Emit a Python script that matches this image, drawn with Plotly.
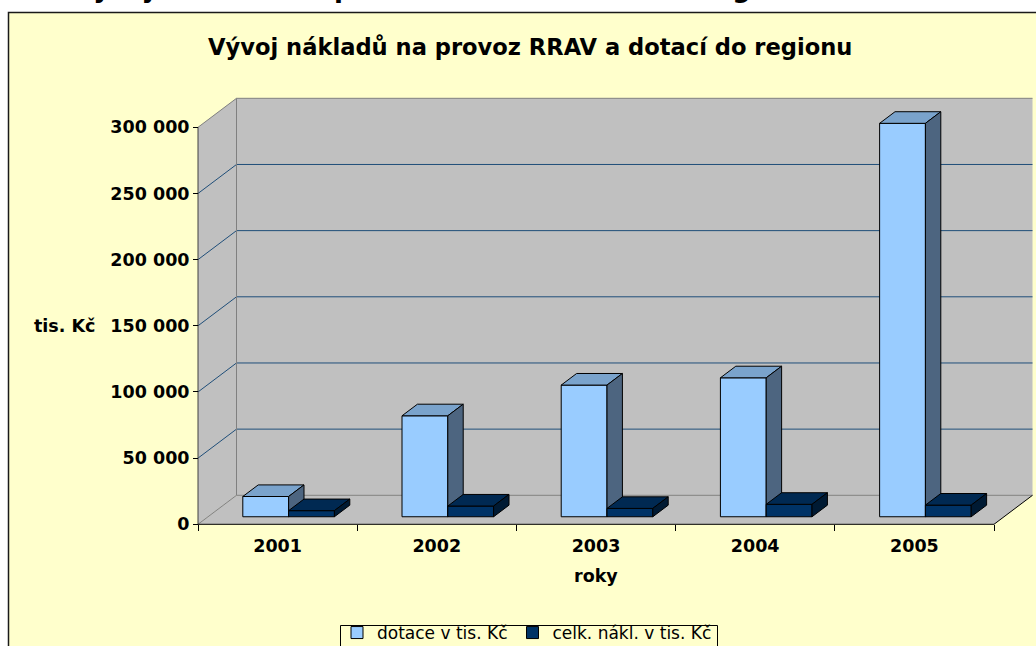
import plotly.graph_objects as go

# ---------------- data ----------------
years = ["2001", "2002", "2003", "2004", "2005"]
dotace = [15300, 76300, 99500, 105000, 297300]      # dotace v tis. Kč
naklady = [4600, 8100, 6300, 9400, 8800]            # celk. nákl. v tis. Kč
y_ticks = [0, 50000, 100000, 150000, 200000, 250000, 300000]
series_names = ["dotace v tis. Kč", "celk. nákl. v tis. Kč"]
chart_title = "Vývoj nákladů na provoz RRAV a dotací do regionu"
page_heading = "6.4  Vývoj nákladů na provoz RRAV a dotací do regionu"

# ---------------- layout geometry ----------------
W, H = 1036, 646
ML, MR, MT, MB = 190, 0, 94, 118
PW, PH = W - ML - MR, H - MT - MB
X0PX, Y0PX = 198.0, 524.3          # pixel of the front axes origin
PXX = 159.2                         # pixels per category
PXY = 397.0 / 300000                # pixels per value unit
xr = [(ML - X0PX) / PXX, (W - MR - X0PX) / PXX]
yr = [(Y0PX - (H - MB)) / PXY, (Y0PX - MT) / PXY]

DX, DY = 38.5 / PXX, 29.0 / PXY     # depth of the 3-D box (data units)
BW = 45.8 / PXX                     # bar width
F0, F1 = 0.26, 0.66                 # bar depth position (fraction of box depth)
SHIFT = 1.0 / PXX
NCAT = len(years)
YTOP = y_ticks[-1]

FONT = "Verdana, DejaVu Sans, sans-serif"
YELLOW = "#FFFFCC"
WALL = "#C0C0C0"
EDGE = "#808080"
GRID = "#1F4E79"


def xp(px):
    return (px - ML) / PW


def yp(py):
    return (H - MB - py) / PH


def fmt(v):
    return f"{v:,}".replace(",", " ")


def faces(centers, vals):
    ddx, ddy, b = (F1 - F0) * DX, (F1 - F0) * DY, F0 * DY
    tx, ty, sx, sy = [], [], [], []
    for xc, v in zip(centers, vals):
        xl, xrr = xc - BW / 2, xc + BW / 2
        t = b + v
        tx += [xl, xrr, xrr + ddx, xl + ddx, xl, None]
        ty += [t, t, t + ddy, t + ddy, t, None]
        sx += [xrr, xrr + ddx, xrr + ddx, xrr, xrr, None]
        sy += [b, b + ddy, t + ddy, t, b, None]
    return tx, ty, sx, sy


fig = go.Figure()

series = [
    (dotace, "#99CCFF", "#7AA3CC", "#4D6580", "x", "y"),
    (naklady, "#003366", "#002952", "#001A33", "x2", "y2"),
]
for s, (vals, cf, ct, cs, xa, ya) in enumerate(series):
    centers = [i + 0.5 - BW / 2 + s * BW + F0 * DX + SHIFT for i in range(NCAT)]
    fig.add_trace(go.Bar(
        x=centers, y=vals, base=[F0 * DY] * NCAT, width=BW,
        marker=dict(color=cf, line=dict(color="black", width=1)),
        name=series_names[s], xaxis=xa, yaxis=ya, hoverinfo="skip",
    ))
    tx, ty, sx, sy = faces(centers, vals)
    fig.add_trace(go.Scatter(x=tx, y=ty, mode="lines", fill="toself", fillcolor=ct,
                             line=dict(color="black", width=1), showlegend=False,
                             hoverinfo="skip", xaxis=xa, yaxis=ya))
    fig.add_trace(go.Scatter(x=sx, y=sy, mode="lines", fill="toself", fillcolor=cs,
                             line=dict(color="black", width=1), showlegend=False,
                             hoverinfo="skip", xaxis=xa, yaxis=ya))

shapes = []
# chart area background + border
shapes.append(dict(type="rect", xref="paper", yref="paper", x0=xp(8.5), y0=yp(12.5),
                   x1=xp(1050), y1=yp(660), fillcolor=YELLOW,
                   line=dict(color="#1a1a1a", width=1.5), layer="below"))
# legend frame
shapes.append(dict(type="rect", xref="paper", yref="paper", x0=xp(340.5), y0=yp(625.5),
                   x1=xp(717.5), y1=yp(660), fillcolor=YELLOW,
                   line=dict(color="black", width=1), layer="below"))


def poly(pts, fill):
    path = "M " + " L ".join(f"{x},{y}" for x, y in pts) + " Z"
    return dict(type="path", xref="x", yref="y", path=path, fillcolor=fill,
                line=dict(width=0), layer="below")


def seg(x0, y0, x1, y1, color, width=1):
    return dict(type="line", xref="x", yref="y", x0=x0, y0=y0, x1=x1, y1=y1,
                line=dict(color=color, width=width), layer="below")


shapes.append(poly([(DX, DY), (NCAT + DX, DY), (NCAT + DX, YTOP + DY), (DX, YTOP + DY)], WALL))
shapes.append(poly([(0, 0), (DX, DY), (DX, YTOP + DY), (0, YTOP)], WALL))
shapes.append(poly([(0, 0), (NCAT, 0), (NCAT + DX, DY), (DX, DY)], WALL))
for v in y_ticks[1:-1]:
    shapes.append(seg(DX, v + DY, NCAT + DX, v + DY, GRID))
    shapes.append(seg(0, v, DX, v + DY, GRID))
shapes.append(seg(0, YTOP, DX, YTOP + DY, EDGE))
shapes.append(seg(DX, YTOP + DY, NCAT + DX, YTOP + DY, EDGE))
shapes.append(seg(DX, DY, DX, YTOP + DY, EDGE))
shapes.append(seg(0, 0, DX, DY, EDGE))
shapes.append(seg(DX, DY, NCAT + DX, DY, EDGE))
shapes.append(seg(0, 0, 0, YTOP, "#404040"))
shapes.append(seg(0, 0, NCAT, 0, "black"))
shapes.append(seg(NCAT, 0, NCAT + DX, DY, "black"))

annotations = [
    dict(text=chart_title, xref="paper", yref="paper", x=xp(529.5), y=yp(47),
         xanchor="center", yanchor="middle", showarrow=False,
         font=dict(family=FONT, size=22.6, color="black", weight="bold")),
    dict(text="tis. Kč", xref="paper", yref="paper", x=xp(97), y=yp(326),
         xanchor="right", yanchor="middle", showarrow=False,
         font=dict(family=FONT, size=17.5, color="black", weight="bold")),
    dict(text="roky", xref="paper", yref="paper", x=xp(596), y=yp(576),
         xanchor="center", yanchor="middle", showarrow=False,
         font=dict(family=FONT, size=17.5, color="black", weight="bold")),
    dict(text=page_heading, xref="paper", yref="paper", x=xp(8), y=yp(4),
         xanchor="left", yanchor="bottom", showarrow=False, borderpad=0,
         font=dict(family=FONT, size=26, color="black", weight="bold")),
]

fig.update_layout(
    width=W, height=H,
    margin=dict(l=ML, r=MR, t=MT, b=MB, autoexpand=False),
    paper_bgcolor="white", plot_bgcolor="rgba(0,0,0,0)",
    barmode="overlay", shapes=shapes, annotations=annotations,
    font=dict(family=FONT, color="black"),
    xaxis=dict(range=xr, domain=[0, 1], anchor="free", position=yp(Y0PX),
               tickmode="array", tickvals=[i + 0.5 for i in range(NCAT)], ticktext=years,
               ticks="outside", ticklen=6, tickcolor="rgba(0,0,0,0)",
               tickfont=dict(family=FONT, size=17.5, color="black", weight="bold"),
               showgrid=False, zeroline=False, showline=False, fixedrange=True,
               minor=dict(tickmode="array", tickvals=list(range(NCAT + 1)), ticks="outside",
                          ticklen=6, tickwidth=1, tickcolor="black", showgrid=False)),
    yaxis=dict(range=yr, domain=[0, 1], anchor="free", position=xp(X0PX),
               tickmode="array", tickvals=y_ticks, ticktext=[fmt(v) for v in y_ticks],
               ticks="outside", ticklen=5, tickcolor="black",
               tickfont=dict(family=FONT, size=17.5, color="black", weight="bold"),
               showgrid=False, zeroline=False, showline=False, fixedrange=True),
    xaxis2=dict(range=xr, overlaying="x", anchor="y2", visible=False, fixedrange=True),
    yaxis2=dict(range=yr, overlaying="y", anchor="x2", visible=False, fixedrange=True),
    legend=dict(orientation="h", x=xp(527), xanchor="center", y=yp(615), yanchor="top",
                bgcolor="rgba(0,0,0,0)", borderwidth=0,
                font=dict(family=FONT, size=17, color="black"), traceorder="normal"),
)

fig.write_html(
    "out.html",
    config={"displayModeBar": False},
    post_script="document.body.style.margin='0';document.body.style.overflow='hidden';",
)
